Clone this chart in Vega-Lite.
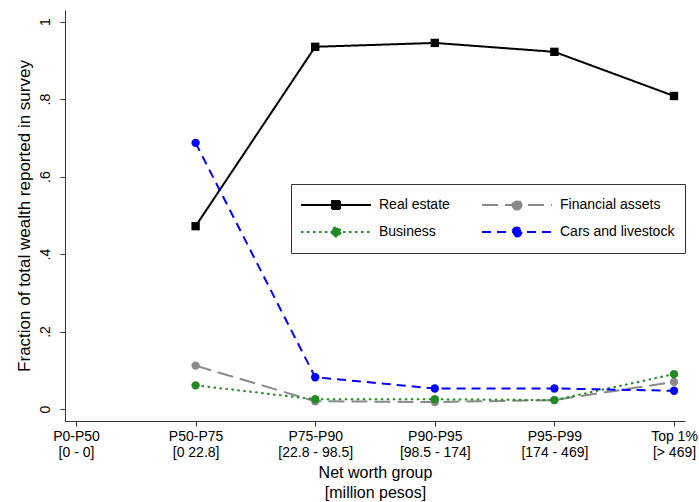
{
  "$schema": "https://vega.github.io/schema/vega-lite/v6.json",
  "width": 620,
  "height": 411,
  "autosize": "none",
  "padding": {"left": 65, "top": 10, "right": 14, "bottom": 81},
  "background": "white",
  "config": {"view": {"stroke": null}, "font": "Liberation Sans"},
  "data": {
    "values": [
      {"group": "P50-P75|[0 22.8]", "series": "Real estate", "fraction": 0.472},
      {"group": "P75-P90|[22.8 - 98.5]", "series": "Real estate", "fraction": 0.935},
      {"group": "P90-P95|[98.5 - 174]", "series": "Real estate", "fraction": 0.945},
      {"group": "P95-P99|[174 - 469]", "series": "Real estate", "fraction": 0.922},
      {"group": "Top 1%|[> 469]", "series": "Real estate", "fraction": 0.808},
      {"group": "P50-P75|[0 22.8]", "series": "Financial assets", "fraction": 0.112},
      {"group": "P75-P90|[22.8 - 98.5]", "series": "Financial assets", "fraction": 0.020},
      {"group": "P90-P95|[98.5 - 174]", "series": "Financial assets", "fraction": 0.018},
      {"group": "P95-P99|[174 - 469]", "series": "Financial assets", "fraction": 0.023},
      {"group": "Top 1%|[> 469]", "series": "Financial assets", "fraction": 0.070},
      {"group": "P50-P75|[0 22.8]", "series": "Business", "fraction": 0.061},
      {"group": "P75-P90|[22.8 - 98.5]", "series": "Business", "fraction": 0.025},
      {"group": "P90-P95|[98.5 - 174]", "series": "Business", "fraction": 0.025},
      {"group": "P95-P99|[174 - 469]", "series": "Business", "fraction": 0.023},
      {"group": "Top 1%|[> 469]", "series": "Business", "fraction": 0.090},
      {"group": "P50-P75|[0 22.8]", "series": "Cars and livestock", "fraction": 0.687},
      {"group": "P75-P90|[22.8 - 98.5]", "series": "Cars and livestock", "fraction": 0.082},
      {"group": "P90-P95|[98.5 - 174]", "series": "Cars and livestock", "fraction": 0.053},
      {"group": "P95-P99|[174 - 469]", "series": "Cars and livestock", "fraction": 0.053},
      {"group": "Top 1%|[> 469]", "series": "Cars and livestock", "fraction": 0.047}
    ]
  },
  "encoding": {
    "x": {
      "field": "group",
      "type": "ordinal",
      "scale": {
        "type": "point",
        "padding": 0.092,
        "domain": ["P0-P50|[0 - 0]", "P50-P75|[0 22.8]", "P75-P90|[22.8 - 98.5]", "P90-P95|[98.5 - 174]", "P95-P99|[174 - 469]", "Top 1%|[> 469]"]
      },
      "axis": {
        "title": ["Net worth group", "[million pesos]"],
        "titleFontSize": 16,
        "titleFontWeight": "normal",
        "titleColor": "black",
        "titleLineHeight": 20,
        "titlePadding": 5,
        "labelExpr": "split(datum.label, '|')",
        "labelAngle": 0,
        "labelFontSize": 14,
        "labelLineHeight": 16,
        "labelColor": "black",
        "labelPadding": 3,
        "tickSize": 5,
        "tickColor": "#333",
        "domainColor": "#333",
        "grid": false
      }
    },
    "y": {
      "field": "fraction",
      "type": "quantitative",
      "scale": {"domain": [-0.031, 1.03], "nice": false, "zero": false},
      "axis": {
        "title": "Fraction of total wealth reported in survey",
        "titleFontSize": 17,
        "titleFontWeight": "normal",
        "titleColor": "black",
        "titlePadding": 5,
        "values": [0, 0.2, 0.4, 0.6, 0.8, 1],
        "labelExpr": "datum.value == 0 ? '0' : datum.value == 1 ? '1' : replace(format(datum.value, '.1f'), '0.', '.')",
        "labelAngle": -90,
        "labelAlign": "center",
        "labelBaseline": "bottom",
        "labelPadding": 8,
        "labelFontSize": 14,
        "labelColor": "black",
        "tickSize": 5,
        "tickColor": "#333",
        "domainColor": "#333",
        "grid": false
      }
    },
    "color": {
      "field": "series",
      "type": "nominal",
      "scale": {
        "domain": ["Real estate", "Financial assets", "Business", "Cars and livestock"],
        "range": ["#000000", "#8a8a8a", "#228b22", "#0000ff"]
      },
      "legend": {
        "title": null,
        "orient": "none",
        "legendX": 226,
        "legendY": 174,
        "direction": "horizontal",
        "columns": 2,
        "symbolSize": 144,
        "symbolStrokeWidth": 2,
        "labelOffset": 64,
        "labelFontSize": 14,
        "labelColor": "black",
        "labelLimit": 250,
        "columnPadding": 32,
        "rowPadding": 5,
        "padding": 10,
        "clipHeight": 22,
        "strokeColor": "#333",
        "fillColor": "white",
        "encode": {
          "symbols": {
            "update": {
              "shape": {"signal": "datum.value === 'Real estate' ? 'M-1.1667,0H10.5M4,-0.6667H5.3333V0.6667H4Z' : 'M-1.1667,0H10.5M5.4167,0C5.4167,0.4142 5.0809,0.75 4.6667,0.75C4.2525,0.75 3.9167,0.4142 3.9167,0C3.9167,-0.4142 4.2525,-0.75 4.6667,-0.75C5.0809,-0.75 5.4167,-0.4142 5.4167,0Z'"},
              "fill": {"signal": "scale('color', datum.value)"},
              "stroke": {"signal": "scale('color', datum.value)"},
              "strokeDash": {"signal": "scale('strokeDash', datum.value)"},
              "size": {"value": 144},
              "strokeWidth": {"value": 2},
              "opacity": {"value": 1}
            }
          }
        }
      }
    }
  },
  "layer": [
    {
      "mark": {"type": "line", "strokeWidth": 2},
      "encoding": {
        "strokeDash": {
          "field": "series",
          "type": "nominal",
          "legend": null,
          "scale": {
            "domain": ["Real estate", "Financial assets", "Business", "Cars and livestock"],
            "range": [[1, 0], [16, 7], [2.5, 3.5], [9, 6]]
          }
        }
      }
    },
    {
      "mark": {"type": "point", "filled": true, "size": 70, "opacity": 1},
      "encoding": {
        "shape": {
          "condition": {"test": "datum.series === 'Real estate'", "value": "square"},
          "value": "circle"
        }
      }
    }
  ]
}
